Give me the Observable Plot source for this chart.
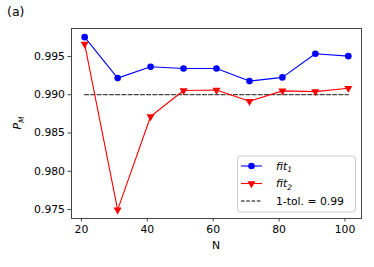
<!DOCTYPE html>
<html>
<head>
<meta charset="utf-8">
<script src="https://cdn.jsdelivr.net/npm/d3@7"></script>
<script src="https://cdn.jsdelivr.net/npm/@observablehq/plot@0.6"></script>
<style>
  html, body { margin: 0; padding: 0; background: #fff; }
  #chart { width: 374px; height: 267px; }
  svg { font-family: "DejaVu Sans", sans-serif; }
</style>
</head>
<body>
<div id="chart"></div>
<script>
const N = [21, 31, 41, 51, 61, 71, 81, 91, 101];
const fit1 = [0.99752, 0.99217, 0.99365, 0.99343, 0.99343, 0.99178, 0.99226, 0.99535, 0.99504];
const fit2 = [0.99660, 0.97495, 0.98715, 0.99055, 0.99062, 0.98915, 0.99050, 0.99040, 0.99085];
const tol = 0.99;
const xTicks = [20, 40, 60, 80, 100];
const yTicks = [0.975, 0.980, 0.985, 0.990, 0.995];
const legendLabels = ["fit", "fit", "1-tol. = 0.99"];
const legendSubs = ["1", "2", ""];

const d1 = N.map((n, i) => ({N: n, v: fit1[i]}));
const d2 = N.map((n, i) => ({N: n, v: fit2[i]}));
const dTol = [{N: N[0], v: tol}, {N: N[N.length - 1], v: tol}];

const fs = 10.8;
const plot = Plot.plot({
  width: 374,
  height: 267,
  marginLeft: 71,
  marginRight: 13,
  marginTop: 28,
  marginBottom: 49,
  style: {fontFamily: "DejaVu Sans, sans-serif", fontSize: fs + "px", color: "#000", background: "#fff"},
  x: {domain: [17, 105], ticks: xTicks, tickSize: 3.5, tickPadding: 3, label: null},
  y: {domain: [0.97383, 0.99865], ticks: yTicks, tickSize: 3.5, tickPadding: 3, tickFormat: d3.format(".3f"), label: null},
  marks: [
    Plot.line(dTol, {x: "N", y: "v", stroke: "#444", strokeWidth: 1.3, strokeDasharray: "4,2.2"}),
    Plot.line(d1, {x: "N", y: "v", stroke: "#0000ff", strokeWidth: 1.1}),
    Plot.dot(d1, {x: "N", y: "v", fill: "#0000ff", r: 3.3, symbol: "circle"}),
    Plot.line(d2, {x: "N", y: "v", stroke: "#ff0000", strokeWidth: 1.1}),
    Plot.dot(d2, {x: "N", y: "v", fill: "#ff0000", r: 3.0, symbol: "triangle", rotate: 180}),
    Plot.frame({stroke: "#444", strokeWidth: 1})
  ]
});
document.getElementById("chart").appendChild(plot);

const svg = d3.select(plot);
svg.selectAll("[aria-label='x-axis tick'] path, [aria-label='y-axis tick'] path").attr("stroke", "#444");

// panel tag
svg.append("text").attr("x", 7).attr("y", 16).attr("text-anchor", "start")
  .attr("font-size", 12.5).attr("fill", "#000").text("(a)");

// y label
const yl = svg.append("text")
  .attr("transform", "translate(21,123) rotate(-90)")
  .attr("text-anchor", "middle").attr("font-size", fs).attr("fill", "#000");
yl.append("tspan").attr("font-style", "italic").text("P");
yl.append("tspan").attr("font-style", "italic").attr("font-size", fs * 0.7).attr("dy", 2.5).text("M");

// x label
svg.append("text").attr("x", 216).attr("y", 249).attr("text-anchor", "middle")
  .attr("font-size", fs).attr("fill", "#000").text("N");

// legend
const lg = svg.append("g").attr("text-anchor", "start");
lg.append("rect").attr("x", 237.5).attr("y", 156).attr("width", 118).attr("height", 56)
  .attr("rx", 3).attr("fill", "#fff").attr("fill-opacity", 0.8).attr("stroke", "#ccc").attr("stroke-width", 1);
const rows = [166, 183.5, 201];
const colors = ["#0000ff", "#ff0000", "#000"];
rows.forEach((ry, i) => {
  lg.append("line").attr("x1", 241).attr("x2", 262).attr("y1", ry).attr("y2", ry)
    .attr("stroke", colors[i]).attr("stroke-width", 1.1)
    .attr("stroke-dasharray", i === 2 ? "3.5,1.8" : null);
  if (i === 0) lg.append("circle").attr("cx", 251.5).attr("cy", ry).attr("r", 3.3).attr("fill", colors[i]);
  if (i === 1) lg.append("path").attr("d", d3.symbol(d3.symbolTriangle, 28)())
    .attr("transform", `translate(251.5,${ry}) rotate(180)`).attr("fill", colors[i]);
  const t = lg.append("text").attr("x", 276).attr("y", ry + 3.8).attr("text-anchor", "start")
    .attr("font-size", fs).attr("fill", "#000");
  if (legendSubs[i]) {
    t.append("tspan").attr("font-style", "italic").text(legendLabels[i]);
    t.append("tspan").attr("font-style", "italic").attr("font-size", fs * 0.7).attr("dy", 2.5).text(legendSubs[i]);
  } else {
    t.text(legendLabels[i]);
  }
});
</script>
</body>
</html>
